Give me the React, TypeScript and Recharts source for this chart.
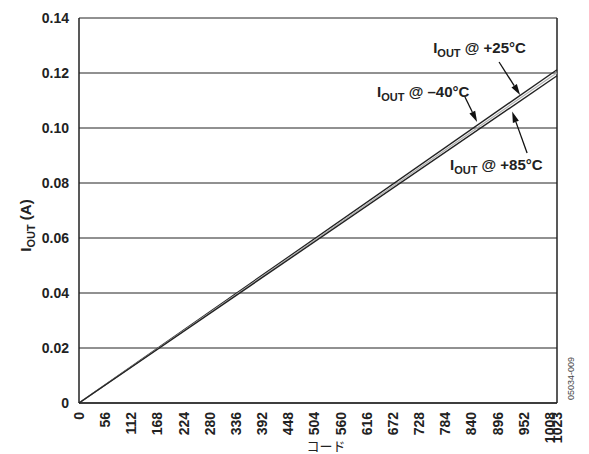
import {
  LineChart, Line, XAxis, YAxis, CartesianGrid, ReferenceLine, ReferenceDot,
} from 'recharts'

const codes = [0, 1023]
const iMinus40 = [0, 0.1212]
const iPlus25 = [0, 0.1201]
const iPlus85 = [0, 0.119]
const xTicks = [0, 56, 112, 168, 224, 280, 336, 392, 448, 504, 560, 616, 672, 728, 784, 840, 896, 952, 1008, 1023]
const yTicks = [0, 0.02, 0.04, 0.06, 0.08, 0.1, 0.12, 0.14]

const labels = [
  { x: 758, y: 0.1273, text: ' @ +25°C' },
  { x: 638, y: 0.1113, text: ' @ –40°C' },
  { x: 794, y: 0.0847, text: ' @ +85°C' },
]
const arrows = [
  { from: { x: 899, y: 0.124 }, to: { x: 944, y: 0.112 } },
  { from: { x: 826, y: 0.1113 }, to: { x: 852, y: 0.1022 } },
  { from: { x: 959, y: 0.0909 }, to: { x: 927, y: 0.106 } },
]

const data = codes.map((c, i) => ({
  code: c,
  m40: iMinus40[i],
  p25: iPlus25[i],
  p85: iPlus85[i],
}))

const FONT = '"Liberation Sans", Arial, Helvetica, sans-serif'

function XTick(props: any) {
  const { x, y, payload } = props
  return (
    <g transform={`translate(${x},${y + 1})`}>
      <text transform="rotate(-90)" textAnchor="end" dy="0.35em" fontSize={14} fontWeight="bold" fill="#222" fontFamily={FONT}>
        {payload.value}
      </text>
    </g>
  )
}

function Arrow(props: any) {
  const { x1, y1, x2, y2 } = props
  const ang = Math.atan2(y2 - y1, x2 - x1)
  const len = 11
  const w = 3.2
  const bx = x2 - len * Math.cos(ang)
  const by = y2 - len * Math.sin(ang)
  const px = -Math.sin(ang) * w
  const py = Math.cos(ang) * w
  return (
    <g>
      <line x1={x1} y1={y1} x2={bx} y2={by} stroke="#111" strokeWidth={1.3} />
      <polygon points={`${x2},${y2} ${bx + px},${by + py} ${bx - px},${by - py}`} fill="#111" />
    </g>
  )
}

function AnnotText({ cx, cy, text }: any) {
  return (
    <text x={cx} y={cy} fontSize={15} fontWeight="bold" fill="#222" fontFamily={FONT}>
      <tspan>I</tspan>
      <tspan dy={4} fontSize={11}>OUT</tspan>
      <tspan dy={-4}>{text}</tspan>
    </text>
  )
}

function YLabel(props: any) {
  const { viewBox } = props
  const cx = viewBox.x + 31
  const cy = viewBox.y + viewBox.height / 2 + 15
  return (
    <text transform={`translate(${cx},${cy}) rotate(-90)`} textAnchor="middle" fontSize={15} fontWeight="bold" fill="#222" fontFamily={FONT}>
      <tspan>I</tspan>
      <tspan dy={4} fontSize={11}>OUT</tspan>
      <tspan dy={-4}> (A)</tspan>
    </text>
  )
}

function XLabel(props: any) {
  const { viewBox } = props
  const cx = viewBox.x + viewBox.width / 2 + 8
  return (
    <text x={cx} y={451} textAnchor="middle" fontSize={13} fill="#222" fontFamily='"Noto Sans CJK JP", sans-serif'>
      コード
    </text>
  )
}

export default function App() {
  return (
    <div style={{ position: 'absolute', left: 0, top: 0, background: '#fff' }}>
      <LineChart width={589} height={454} data={data} margin={{ top: 18, right: 32, bottom: 0, left: 0 }}>
        <CartesianGrid vertical={false} stroke="#222" strokeWidth={1} />
        <XAxis
          dataKey="code"
          type="number"
          domain={[0, 1023]}
          ticks={xTicks}
          interval={0}
          height={51}
          tick={<XTick />}
          tickLine={false}
          axisLine={{ stroke: '#222', strokeWidth: 1.5 }}
          label={{ content: <XLabel /> }}
        />
        <YAxis
          type="number"
          domain={[0, 0.14]}
          ticks={yTicks}
          interval={0}
          width={79}
          tickLine={false}
          tickFormatter={(v: number) => (v === 0 ? '0' : v.toFixed(2))}
          tick={{ fontSize: 14, fontWeight: 'bold', fill: '#222', fontFamily: FONT }}
          tickMargin={4}
          axisLine={{ stroke: '#222', strokeWidth: 1.5 }}
          label={{ content: <YLabel /> }}
        />
        <ReferenceLine x={1023} stroke="#222" strokeWidth={1.5} />
        <Line dataKey="m40" stroke="#222" strokeWidth={1.4} dot={false} isAnimationActive={false} />
        <Line dataKey="p25" stroke="#b0b0b0" strokeWidth={1.2} dot={false} isAnimationActive={false} />
        <Line dataKey="p85" stroke="#222" strokeWidth={1.4} dot={false} isAnimationActive={false} />
        {arrows.map((a, i) => (
          <ReferenceLine key={`a${i}`} segment={[a.from, a.to]} shape={(p: any) => <Arrow {...p} />} />
        ))}
        {labels.map((l, i) => (
          <ReferenceDot key={`l${i}`} x={l.x} y={l.y} r={0} shape={(p: any) => <AnnotText cx={p.cx} cy={p.cy} text={l.text} />} />
        ))}
      </LineChart>
      <svg width={20} height={100} style={{ position: 'absolute', left: 560, top: 310 }}>
        <text transform="translate(14,90) rotate(-90)" fontSize={9} fill="#444" fontFamily={FONT}>05034-009</text>
      </svg>
    </div>
  )
}
